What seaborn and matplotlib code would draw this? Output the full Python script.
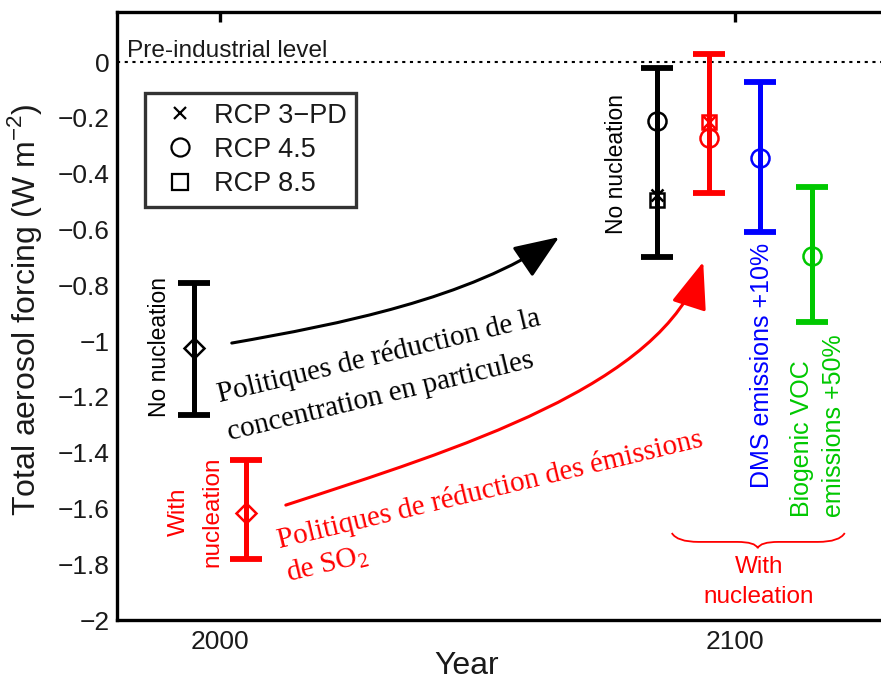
import numpy as np
import pandas as pd
import matplotlib
matplotlib.use("Agg")
import matplotlib.pyplot as plt
from matplotlib.lines import Line2D
from matplotlib.patches import FancyArrowPatch, PathPatch
from matplotlib.path import Path
import seaborn as sns

# ---------------- data ----------------
bar_years = [1995, 2005, 2085, 2095, 2105, 2115]
bar_low = [-1.265, -1.78, -0.70, -0.47, -0.61, -0.93]
bar_high = [-0.79, -1.425, -0.02, 0.03, -0.07, -0.448]
bar_colors = ["black", "red", "black", "red", "blue", "#00c800"]

present_years = [1995, 2005]
present_vals = [-1.025, -1.615]
present_colors = ["black", "red"]

rcp3_years = [2085, 2095]
rcp3_vals = [-0.475, -0.215]
rcp3_colors = ["black", "red"]

rcp45_years = [2085, 2095, 2105, 2115]
rcp45_vals = [-0.21, -0.27, -0.345, -0.695]
rcp45_colors = ["black", "red", "blue", "#00c800"]

rcp85_years = [2085, 2095]
rcp85_vals = [-0.495, -0.215]
rcp85_colors = ["black", "red"]

legend_labels = ["RCP 3\u2212PD", "RCP 4.5", "RCP 8.5"]
x_ticks = [2000, 2100]
x_ticklabels = ["2000", "2100"]
y_ticks = [0, -0.2, -0.4, -0.6, -0.8, -1, -1.2, -1.4, -1.6, -1.8, -2]
y_ticklabels = ["0", "\u22120.2", "\u22120.4", "\u22120.6", "\u22120.8", "\u22121",
                "\u22121.2", "\u22121.4", "\u22121.6", "\u22121.8", "\u22122"]

# ---------------- style ----------------
sns.set_theme(style="white")
plt.rcParams["font.family"] = ["Liberation Sans", "DejaVu Sans"]
plt.rcParams["axes.unicode_minus"] = True

SANS = ["Liberation Sans", "DejaVu Sans"]
SERIF = ["Liberation Serif", "DejaVu Serif"]

fig = plt.figure(figsize=(8.81, 6.81), dpi=100)
ax = fig.add_axes([117 / 881, 61 / 681, 772 / 881, 608 / 681])
ax.set_xlim(1980, 2130)
ax.set_ylim(-2, 0.18)

for s in ax.spines.values():
    s.set_linewidth(2.4)
    s.set_color("black")

ax.set_xticks(x_ticks)
ax.set_xticklabels(x_ticklabels)
ax.set_yticks(y_ticks)
ax.set_yticklabels(y_ticklabels)
ax.tick_params(axis="both", direction="in", length=7, width=2.4, color="black",
               labelsize=19, labelcolor="#1a1a1a", top=True, right=False)
ax.tick_params(axis="y", pad=5)
ax.tick_params(axis="x", pad=7)
ax.grid(False)

ax.set_ylabel("Total aerosol forcing (W m$^{\\mathregular{-2}}$)", fontsize=23,
              color="#1a1a1a")
ax.set_xlabel("Year", fontsize=23, color="#1a1a1a")
ax.yaxis.set_label_coords(-0.095, 0.51)
ax.xaxis.set_label_coords(0.453, -0.051)

# pre-industrial level
ax.axhline(0, color="black", lw=1.5, ls=(0, (1.5, 2.2)), zorder=1)
ax.text(1981.9, 0.02, "Pre-industrial level", fontsize=17.6, color="#1a1a1a",
        ha="left", va="baseline", family=SANS)

# error bars
df = pd.DataFrame({"year": bar_years, "low": bar_low, "high": bar_high, "color": bar_colors})
for _, r in df.iterrows():
    mid = (r["low"] + r["high"]) / 2
    half = (r["high"] - r["low"]) / 2
    ax.errorbar([r["year"]], [mid], yerr=[[half], [half]], fmt="none",
                ecolor=r["color"], elinewidth=3.6, capsize=11.5, capthick=4.2, zorder=3)

# markers
def draw_markers(xs, ys, cols, marker, ms, mew=1.8):
    for x, y, c in zip(xs, ys, cols):
        ax.plot([x], [y], marker=marker, ms=ms, mfc="none", mec=c, mew=mew,
                ls="none", zorder=4)

draw_markers(present_years, present_vals, present_colors, "D", 10.5)
draw_markers(rcp45_years, rcp45_vals, rcp45_colors, "o", 13)
draw_markers(rcp85_years, rcp85_vals, rcp85_colors, "s", 10.5)
draw_markers(rcp3_years, rcp3_vals, rcp3_colors, "x", 8)

# legend
handles = [
    Line2D([], [], marker="x", color="black", ls="none", ms=9, mew=1.6),
    Line2D([], [], marker="o", color="black", mfc="none", ls="none", ms=13, mew=1.6),
    Line2D([], [], marker="s", color="black", mfc="none", ls="none", ms=12, mew=1.6),
]
leg = ax.legend(handles, legend_labels, loc="upper left",
                bbox_to_anchor=(145 / 881, 1 - 93 / 681), bbox_transform=fig.transFigure,
                borderaxespad=0, frameon=True, fancybox=False, fontsize=19.5,
                handlelength=1.9, handletextpad=0.27, borderpad=0.36, labelspacing=0.3)
leg.get_frame().set_edgecolor("black")
leg.get_frame().set_linewidth(2.4)
for t in leg.get_texts():
    t.set_color("#1a1a1a")

# rotated sans labels
ax.text(1988.2, -1.021, "No nucleation", rotation=90, fontsize=16.5, color="black",
        ha="center", va="center", family=SANS)
ax.text(2077.1, -0.365, "No nucleation", rotation=90, fontsize=16.5, color="black",
        ha="center", va="center", family=SANS)
ax.text(1992.0, -1.613, "With", rotation=90, fontsize=17.5, color="red",
        ha="center", va="center", family=SANS)
ax.text(1998.5, -1.613, "nucleation", rotation=90, fontsize=17.5, color="red",
        ha="center", va="center", family=SANS)
ax.text(2105.3, -1.527, "DMS emissions +10%", rotation=90, rotation_mode="anchor",
        fontsize=18, color="blue", ha="left", va="center", family=SANS)
ax.text(2113.1, -1.631, "Biogenic VOC", rotation=90, rotation_mode="anchor",
        fontsize=18, color="#00c800", ha="left", va="center", family=SANS)
ax.text(2119.3, -1.631, "emissions +50%", rotation=90, rotation_mode="anchor",
        fontsize=18, color="#00c800", ha="left", va="center", family=SANS)
ax.text(2104.7, -1.831, "With", fontsize=17.5, color="red", ha="center",
        va="baseline", family=SANS)
ax.text(2104.7, -1.939, "nucleation", fontsize=17.5, color="red", ha="center",
        va="baseline", family=SANS)

# brace
bv = [(2087.8, -1.688), (2088.8, -1.720), (2093.0, -1.720), (2100.5, -1.720),
      (2104.0, -1.720), (2104.5, -1.742), (2105.0, -1.720), (2108.5, -1.720),
      (2116.2, -1.720), (2120.4, -1.720), (2121.4, -1.688)]
bc = [Path.MOVETO, Path.CURVE3, Path.CURVE3, Path.LINETO, Path.CURVE3, Path.CURVE3,
      Path.CURVE3, Path.CURVE3, Path.LINETO, Path.CURVE3, Path.CURVE3]
ax.add_patch(PathPatch(Path(bv, bc), fc="none", ec="red", lw=1.3, zorder=2))

# French annotations (serif, rotated)
ang = 13.5
ax.text(2000.0, -1.218, "Politiques de réduction de la", rotation=ang,
        rotation_mode="anchor", fontsize=21, color="black", ha="left",
        va="baseline", family=SERIF)
ax.text(2001.95, -1.355, "concentration en particules", rotation=ang,
        rotation_mode="anchor", fontsize=21, color="black", ha="left",
        va="baseline", family=SERIF)
ax.text(2011.6, -1.742, "Politiques de réduction des émissions", rotation=ang,
        rotation_mode="anchor", fontsize=21, color="red", ha="left",
        va="baseline", family=SERIF)
ax.text(2013.4, -1.862, r"de $\mathregular{SO_2}$", rotation=ang,
        rotation_mode="anchor", fontsize=21, color="red", ha="left",
        va="baseline", family=SERIF)

# curved arrows
blk = Path([(2002.3, -1.007), (2023.3, -0.939), (2048.2, -0.849), (2065.9, -0.627)],
           [Path.MOVETO, Path.CURVE4, Path.CURVE4, Path.CURVE4])
ax.add_patch(FancyArrowPatch(path=blk, arrowstyle="-|>,head_length=0.4,head_width=0.16",
                             mutation_scale=70, color="black", lw=2.2, zorder=3))
red = Path([(2012.8, -1.588), (2046.1, -1.387), (2086.1, -1.161), (2093.9, -0.716)],
           [Path.MOVETO, Path.CURVE4, Path.CURVE4, Path.CURVE4])
ax.add_patch(FancyArrowPatch(path=red, arrowstyle="-|>,head_length=0.42,head_width=0.16",
                             mutation_scale=70, color="red", lw=2.2, zorder=3))

fig.savefig("out.png", dpi=100)
